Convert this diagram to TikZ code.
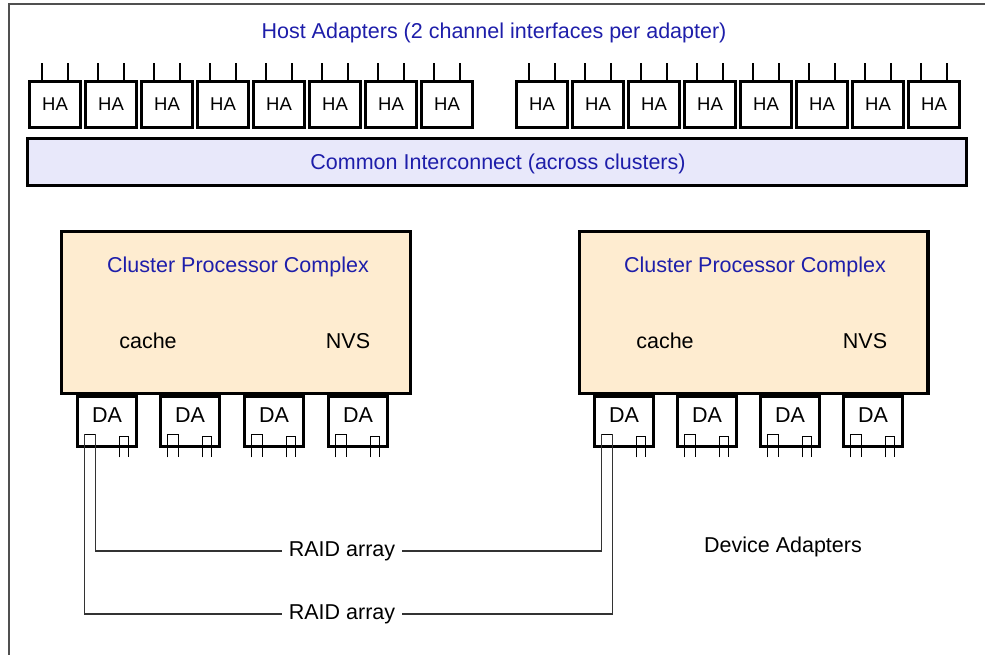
\documentclass[tikz,border=0pt]{standalone}
\usepackage{fontspec}
\setmainfont{Liberation Sans}
\usetikzlibrary{calc}
\definecolor{txtblue}{RGB}{30,30,170}
\definecolor{cpcfill}{RGB}{254,236,208}
\definecolor{icfill}{RGB}{232,232,250}
\definecolor{framegray}{RGB}{80,80,80}
\begin{document}
\begin{tikzpicture}[x=1pt,y=-1pt,
  bigtext/.style={font=\fontsize{21.5}{24}\selectfont},
  habox/.style={draw, line width=3.2pt, fill=white, minimum width=51pt, minimum height=45.8pt, inner sep=0pt, font=\fontsize{18.5}{20}\selectfont},
  dabox/.style={draw, line width=3pt, fill=white, minimum width=59.5pt, minimum height=50.5pt, inner sep=0pt, text height=15.5pt, text depth=14pt, font=\fontsize{21.5}{24}\selectfont},
  cpcbox/.style={draw, line width=3.2pt, fill=cpcfill, minimum width=348.8pt, minimum height=161.8pt, inner sep=0pt},
  tick/.style={line width=1.3pt},
  port/.style={line width=1.3pt},
  raidline/.style={line width=1.4pt, draw=black!80},
  frameline/.style={line width=1.6pt, draw=framegray}
]
\useasboundingbox (0,0) rectangle (985,655);
\draw[frameline] (985,4) -- (9,4) -- (9,655);

% title
\node[bigtext, text=txtblue] (title) at (494,33) {Host Adapters (2 channel interfaces per adapter)};

% host adapters
\foreach \i in {0,...,7}{
  \node[habox] (hal\i) at ({55+56*\i},104.5) {HA};
  \draw[tick] ([xshift=-13pt]hal\i.north) -- ++(0,-17);
  \draw[tick] ([xshift=13pt]hal\i.north) -- ++(0,-17);
  \node[habox] (har\i) at ({542+56*\i},104.5) {HA};
  \draw[tick] ([xshift=-13pt]har\i.north) -- ++(0,-17);
  \draw[tick] ([xshift=13pt]har\i.north) -- ++(0,-17);
}

% interconnect
\node[draw, line width=3pt, fill=icfill, minimum width=939pt, minimum height=47pt, inner sep=0pt] (ic) at (497,162) {};
\node[bigtext, text=txtblue] (ictext) at (498,164) {Common Interconnect (across clusters)};

% cluster processor complexes
\node[cpcbox] (cpcl) at (236,312.5) {};
\node[cpcbox] (cpcr) at (753.5,312.5) {};
\node[bigtext, text=txtblue] (cpcltitle) at (238,267) {Cluster Processor Complex};
\node[bigtext, text=txtblue] (cpcrtitle) at (755,267) {Cluster Processor Complex};
\node[bigtext] (cachel) at (148,341) {cache};
\node[bigtext] (nvsl) at (348,341) {NVS};
\node[bigtext] (cacher) at (665,341) {cache};
\node[bigtext] (nvsr) at (865,341) {NVS};

% device adapters
\foreach \n/\x in {dl1/107, dl2/190, dl3/274, dl4/358, dr1/624, dr2/707, dr3/790, dr4/873}{
  \node[dabox] (\n) at (\x,421.5) {DA};
}
% ports
\foreach \n in {dl2,dl3,dl4,dr2,dr3,dr4}{
  \draw[port] ($(\n.south west)+(9,9)$) -- ($(\n.south west)+(9,-14)$) -- ($(\n.south west)+(20,-14)$) -- ($(\n.south west)+(20,9)$);
}
\foreach \n in {dl1,dl2,dl3,dl4,dr1,dr2,dr3,dr4}{
  \draw[port] ($(\n.south west)+(44,9)$) -- ($(\n.south west)+(44,-12)$) -- ($(\n.south west)+(53,-12)$) -- ($(\n.south west)+(53,9)$);
}
\draw[port] ($(dl1.south west)+(9,-14)$) -- ($(dl1.south west)+(20,-14)$);
\draw[port] ($(dr1.south west)+(9,-14)$) -- ($(dr1.south west)+(20,-14)$);

% RAID arrays
\node[bigtext, inner xsep=7pt] (raida) at (342,551) {RAID array};
\node[bigtext, inner xsep=7pt] (raidb) at (342,614) {RAID array};
\draw[raidline] ($(dl1.south west)+(20,-14)$) |- (raida.west);
\draw[raidline] (raida.east) -| ($(dr1.south west)+(9,-14)$);
\draw[raidline] ($(dl1.south west)+(9,-14)$) |- (raidb.west);
\draw[raidline] (raidb.east) -| ($(dr1.south west)+(20,-14)$);

\node[bigtext] (devad) at (783,547) {Device Adapters};
\end{tikzpicture}
\end{document}
